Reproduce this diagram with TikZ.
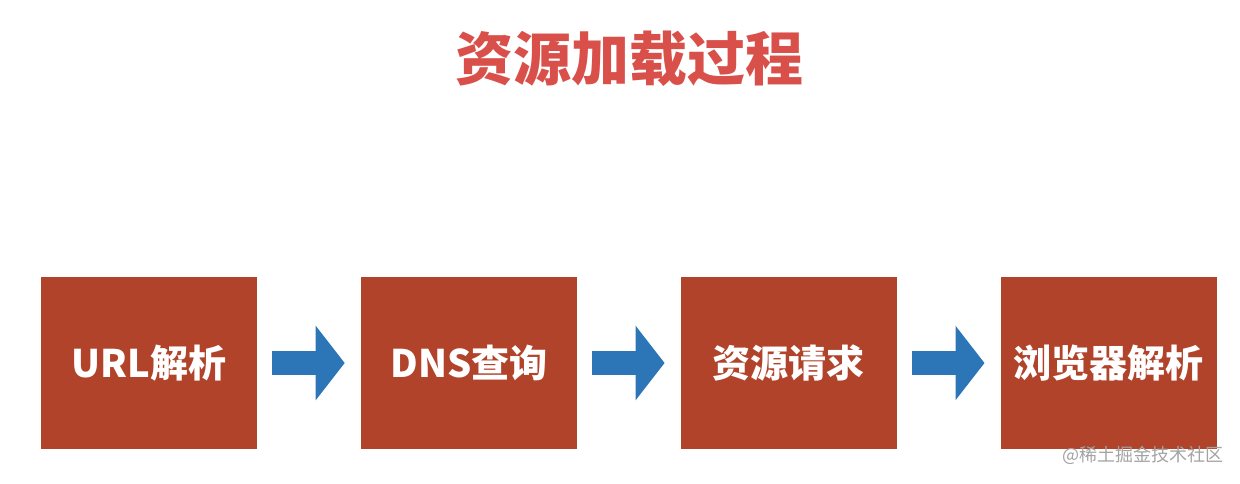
\documentclass[tikz,border=0pt]{standalone}
\usepackage{fontspec}
\newfontfamily\cjk{Noto Sans CJK SC}
\usetikzlibrary{positioning,arrows.meta}
\definecolor{stepred}{HTML}{B1432B}
\definecolor{flowblue}{HTML}{2C76B8}
\definecolor{titlered}{HTML}{D9504A}
\definecolor{markgray}{HTML}{A3A3A3}

\begin{document}
\begin{tikzpicture}[
            x=1pt, y=1pt,
            node distance=103.5pt,
            stepbox/.style = {shape=rectangle, fill=stepred, text=white, minimum width=216pt, minimum height=172pt, inner sep=0pt, font=\cjk\bfseries\fontsize{38}{40}\selectfont},
            flow/.style = {draw=flowblue, line width=24pt, -{Triangle[length=29pt, width=73pt]}, shorten <=15pt, shorten >=16pt}
        ]
        \useasboundingbox (0,0) rectangle (1240,483);
        \node[text=titlered, font=\cjk\bfseries\fontsize{58}{60}\selectfont] (title) at (629,424) {资源加载过程};
        \node[stepbox] (url) at (149,120) {URL解析};
        \node[stepbox, right=of url] (dns) {DNS查询};
        \node[stepbox, right=of dns] (request) {资源请求};
        \node[stepbox, right=of request] (parse) {浏览器解析};
        \draw[flow] (url) -- (dns);
        \draw[flow] (dns) -- (request);
        \draw[flow] (request) -- (parse);
        \node[text=markgray, font=\cjk\fontsize{18}{20}\selectfont] (mark) at (1143,28) {@稀土掘金技术社区};
    \end{tikzpicture}
\end{document}
